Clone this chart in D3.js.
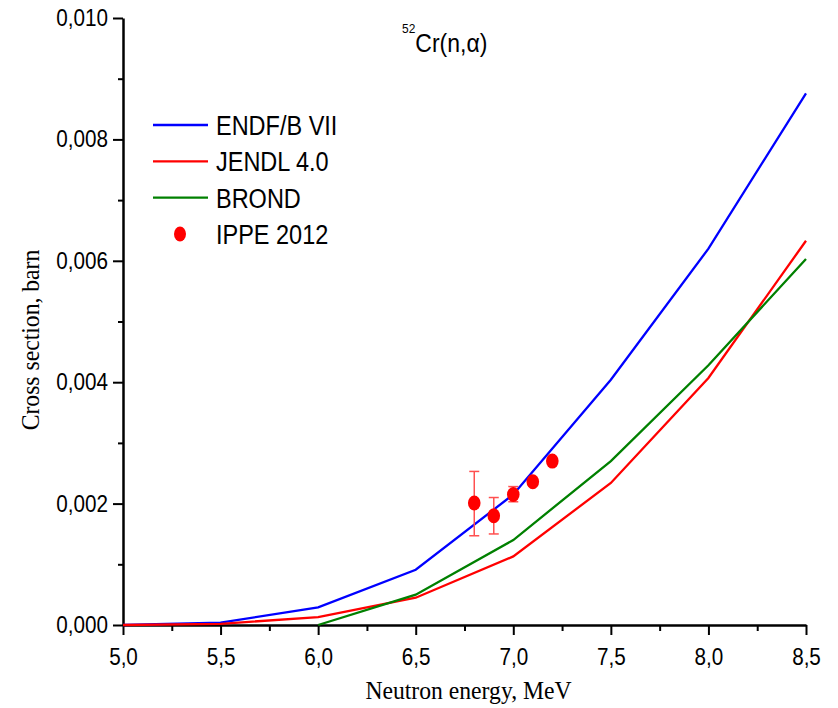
<!DOCTYPE html>
<html>
<head>
<meta charset="utf-8">
<script src="https://cdn.jsdelivr.net/npm/d3@7"></script>
<style>
  body { margin: 0; background: #fff; }
  svg { display: block; }
</style>
</head>
<body>
<div id="chart"></div>
<script>
// ── data ──
const energies = [5.0, 5.5, 6.0, 6.5, 7.0, 7.5, 8.0, 8.5];
const endf  = [0.0, 0.00004, 0.00029, 0.00091, 0.00215, 0.00404, 0.00620, 0.00876];
const jendl = [0.0, 0.00002, 0.00013, 0.00045, 0.00113, 0.00234, 0.00407, 0.00633];
const brondE = [6.0, 6.5, 7.0, 7.5, 8.0, 8.5];
const brond  = [0.0, 0.00050, 0.00140, 0.00270, 0.00428, 0.00603];

const ippeE   = [6.8, 6.9, 7.0, 7.1, 7.2];
const ippe    = [0.00201, 0.00180, 0.00215, 0.00236, 0.00270];
const ippeLo  = [0.00147, 0.00150, 0.00203, 0.00236, 0.00270];
const ippeHi  = [0.00253, 0.00210, 0.00228, 0.00236, 0.00270];

const xTicks = [5.0, 5.5, 6.0, 6.5, 7.0, 7.5, 8.0, 8.5];
const yTicks = [0, 0.002, 0.004, 0.006, 0.008, 0.010];

const series = [
  { name: 'ENDF/B VII', color: '#0000ff', x: energies, y: endf },
  { name: 'JENDL 4.0',  color: '#ff0000', x: energies, y: jendl },
  { name: 'BROND',      color: '#008000', x: brondE,   y: brond }
];

const W = 838, H = 708;
const M = { left: 123, right: 806, top: 18, bottom: 625 };
const SANS = 'Liberation Sans, Arial, sans-serif';
const SERIF = 'Liberation Serif, Times New Roman, serif';
const SQ = 0.88; // the original text is a bit narrower than the fonts here

const svg = d3.select('#chart').append('svg')
  .attr('width', W).attr('height', H);

const x = d3.scaleLinear().domain([5.0, 8.5]).range([M.left, M.right]);
const y = d3.scaleLinear().domain([0, 0.010]).range([M.bottom, M.top]);

const fmt = d => d.toFixed(1).replace('.', ',');
const fmtY = d => d.toFixed(3).replace('.', ',');

// move x/y of a text into a transform so it can be squeezed sideways
function squeeze(sel, sx) {
  sel.each(function () {
    const t = d3.select(this);
    const tx = +t.attr('x') || 0, ty = +t.attr('y') || 0;
    t.attr('x', null).attr('y', null)
      .attr('transform', `translate(${tx},${ty}) scale(${sx},1)`);
  });
}

// ── axes ──
const xAxis = svg.append('g').attr('transform', `translate(0,${M.bottom})`)
  .call(d3.axisBottom(x).tickValues(xTicks).tickFormat(fmt).tickSize(10).tickSizeOuter(0));
svg.append('g').attr('transform', `translate(0,${M.bottom})`)
  .call(d3.axisBottom(x).tickValues(d3.range(5.25, 8.5, 0.5)).tickFormat('').tickSize(6).tickSizeOuter(0))
  .call(g => g.select('.domain').remove());

const yAxis = svg.append('g').attr('transform', `translate(${M.left},0)`)
  .call(d3.axisLeft(y).tickValues(yTicks).tickFormat(fmtY).tickSize(10).tickSizeOuter(0));
svg.append('g').attr('transform', `translate(${M.left},0)`)
  .call(d3.axisLeft(y).tickValues(d3.range(0.001, 0.010, 0.002)).tickFormat('').tickSize(5).tickSizeOuter(0))
  .call(g => g.select('.domain').remove());

svg.selectAll('.domain').attr('stroke', '#000').attr('stroke-width', 2.5);
svg.selectAll('.tick line').attr('stroke', '#000').attr('stroke-width', 2);
svg.selectAll('.tick text')
  .attr('font-family', SANS)
  .attr('font-size', 23.5).attr('fill', '#000');
xAxis.selectAll('.tick text').attr('y', 40).attr('dy', null);
yAxis.selectAll('.tick text').attr('x', -15).attr('y', 7.5).attr('dy', null);
squeeze(svg.selectAll('.tick text'), SQ);

// ── axis titles ──
svg.append('text')
  .attr('transform', `translate(${(M.left + M.right) / 2 + 4},699) scale(0.91,1)`)
  .attr('text-anchor', 'middle')
  .attr('font-family', SERIF)
  .attr('font-size', 26)
  .text('Neutron energy, MeV');

svg.append('text')
  .attr('transform', `translate(39,340) rotate(-90) scale(0.91,1)`)
  .attr('text-anchor', 'middle')
  .attr('font-family', SERIF)
  .attr('font-size', 26)
  .text('Cross section, barn');

// ── title ──
const title = svg.append('text')
  .attr('transform', 'translate(402,52) scale(0.92,1)')
  .attr('font-family', SANS)
  .attr('font-size', 25);
title.append('tspan').attr('font-size', 13).attr('dy', -19).text('52');
title.append('tspan').attr('dy', 19).text('Cr(n,α)');

// ── lines ──
const line = d3.line().x(d => x(d[0])).y(d => y(d[1]));
svg.append('g').selectAll('path').data(series).join('path')
  .attr('fill', 'none')
  .attr('stroke', d => d.color)
  .attr('stroke-width', 2.3)
  .attr('d', d => line(d.x.map((v, i) => [v, d.y[i]])));

// ── IPPE points with error bars ──
const pts = ippeE.map((e, i) => ({ e, v: ippe[i], lo: ippeLo[i], hi: ippeHi[i] }));
const eb = svg.append('g').attr('stroke', '#ff5050').attr('stroke-width', 1.5);
pts.filter(d => d.hi > d.lo).forEach(d => {
  eb.append('line').attr('x1', x(d.e)).attr('x2', x(d.e)).attr('y1', y(d.hi)).attr('y2', y(d.lo));
  eb.append('line').attr('x1', x(d.e) - 5).attr('x2', x(d.e) + 5).attr('y1', y(d.hi)).attr('y2', y(d.hi));
  eb.append('line').attr('x1', x(d.e) - 5).attr('x2', x(d.e) + 5).attr('y1', y(d.lo)).attr('y2', y(d.lo));
});
svg.append('g').selectAll('ellipse').data(pts).join('ellipse')
  .attr('cx', d => x(d.e)).attr('cy', d => y(d.v))
  .attr('rx', 6.3).attr('ry', 7.5)
  .attr('fill', '#ff0000');

// ── legend ──
const lg = svg.append('g').attr('font-family', SANS).attr('font-size', 27);
series.forEach((s, i) => {
  const yy = 125 + i * 36.3;
  lg.append('line').attr('x1', 153).attr('x2', 208).attr('y1', yy).attr('y2', yy)
    .attr('stroke', s.color).attr('stroke-width', 2.3);
  lg.append('text').attr('transform', `translate(216,${yy + 10}) scale(0.87,1)`).text(s.name);
});
lg.append('ellipse').attr('cx', 180).attr('cy', 234).attr('rx', 6).attr('ry', 7.5).attr('fill', '#ff0000');
lg.append('text').attr('transform', 'translate(216,244) scale(0.87,1)').text('IPPE 2012');
</script>
</body>
</html>
